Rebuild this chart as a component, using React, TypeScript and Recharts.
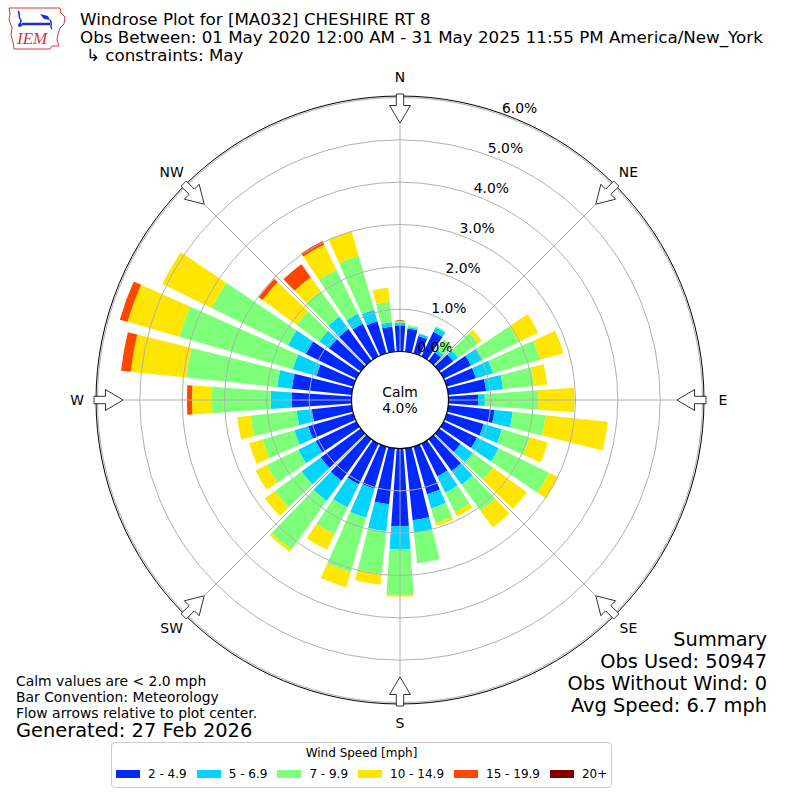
import { RadialBarChart, RadialBar, PolarAngleAxis, PolarRadiusAxis } from "recharts";

// direction of origin, degrees clockwise from north
const directions = [
  0, 10, 20, 30, 40, 50, 60, 70, 80, 90, 100, 110, 120, 130, 140, 150, 160, 170,
  180, 190, 200, 210, 220, 230, 240, 250, 260, 270, 280, 290, 300, 310, 320, 330, 340, 350,
];

// percent of observations per direction and speed bin
const speed2to5 = [
  0.62, 0.55, 0.43, 0.65, 0.25, 0.41, 0.72, 0.72, 0.9, 0.7, 1.1, 0.91, 0.88, 0.62, 0.93, 0.86, 1.17, 1.71,
  1.84, 1.33, 1.03, 1.07, 1.21, 1.17, 1.07, 1.11, 0.95, 1.41, 1.42, 0.91, 1.33, 0.93, 0.93, 0.86, 0.79, 0.6,
];
const speed5to7 = [
  0.06, 0.04, 0.06, 0.12, 0.08, 0.14, 0.3, 0.42, 0.4, 0.16, 0.43, 0.45, 0.57, 0.36, 0.4, 0.43, 0.35, 0.29,
  0.55, 0.64, 0.72, 0.61, 0.59, 0.56, 0.46, 0.34, 0.36, 0.5, 0.35, 0.58, 0.47, 0.28, 0.36, 0.26, 0.28, 0.1,
];
const speed7to10 = [
  0.05, 0.04, 0, 0.03, 0.29, 0.59, 0.95, 1.16, 0.74, 1.26, 0.78, 0.68, 1.32, 0.59, 0.76, 0.51, 0.36, 0.73,
  1.07, 1.01, 1.33, 0.71, 1.42, 0.78, 0.82, 0.79, 1.09, 1.39, 2.16, 2.79, 2.01, 0.67, 0.75, 1.16, 1.33, 0.49,
];
const speed10to15 = [
  0, 0, 0, 0, 0, 0.1, 0.52, 0.57, 0.31, 0.86, 1.48, 0.45, 0.24, 0.99, 0.49, 0.12, 0.07, 0,
  0.04, 0.26, 0.38, 0.4, 0.07, 0.29, 0.3, 0.32, 0.32, 0.47, 1.32, 1.27, 1.29, 0.99, 0.4, 0.66, 0.6, 0.33,
];
const speed15to20 = [
  0, 0, 0, 0, 0, 0, 0, 0, 0, 0, 0, 0, 0, 0, 0, 0, 0, 0,
  0, 0, 0, 0, 0, 0, 0, 0, 0, 0.12, 0.23, 0.19, 0, 0.11, 0.38, 0.09, 0, 0,
];
const speed20plus = [
  0, 0, 0, 0, 0, 0, 0, 0, 0, 0, 0, 0, 0, 0, 0, 0, 0, 0,
  0, 0, 0, 0, 0, 0, 0, 0, 0, 0, 0, 0, 0, 0, 0, 0, 0, 0,
];

const binLabels = ["2 - 4.9", "5 - 6.9", "7 - 9.9", "10 - 14.9", "15 - 19.9", "20+"];
const binColors = ["#0028ff", "#00d4ff", "#7dff7a", "#ffe600", "#ff4700", "#800000"];
const binValues = [speed2to5, speed5to7, speed7to10, speed10to15, speed15to20, speed20plus];

const radialTicks = [0, 1, 2, 3, 4, 5, 6];
const compassLabels = ["N", "NE", "E", "SE", "S", "SW", "W", "NW"];

const data = directions.map((d, i) => {
  const row: Record<string, number | string> = { dir: String(d) };
  binValues.forEach((vals, j) => {
    row["bin" + j] = vals[i];
  });
  return row;
});

const CX = 400;
const CY = 400;
const R0 = 48.5;
const R1 = 302.5;
const FONT = "DejaVu Sans, Verdana, sans-serif";

// point at radius r along compass bearing deg, w = sideways offset
const pt = (deg: number, r: number, w = 0) => {
  const a = (deg * Math.PI) / 180;
  return [CX + r * Math.sin(a) + w * Math.cos(a), CY - r * Math.cos(a) + w * Math.sin(a)];
};

const RadiusTick = (props: any) => {
  const { x, y, payload } = props;
  return (
    <text x={x + 18.6} y={y - 6.8} textAnchor="middle" dominantBaseline="central" fontSize={13.9} fontFamily={FONT} fill="#000">
      {`${Number(payload.value).toFixed(1)}%`}
    </text>
  );
};

const arrowShape = (deg: number) => {
  const pts = [
    pt(deg, 306, -3.7),
    pt(deg, 294.5, -3.7),
    pt(deg, 294.5, -10.5),
    pt(deg, 277, 0),
    pt(deg, 294.5, 10.5),
    pt(deg, 294.5, 3.7),
    pt(deg, 306, 3.7),
  ];
  return pts.map((p) => p.join(",")).join(" ");
};

const Overlay = () => {
  const rings = radialTicks.slice(1).map((v) => R0 + (v * (R1 - R0)) / 6);
  return (
    <svg width={800} height={800} style={{ position: "absolute", left: 0, top: 0, pointerEvents: "none" }}>
      {rings.map((r, i) => (
        <circle key={i} cx={CX} cy={CY} r={r} fill="none" stroke="#b0b0b0" strokeWidth={1} />
      ))}
      {compassLabels.map((_, i) => {
        const a = pt(i * 45, R0);
        const b = pt(i * 45, R1);
        return <line key={i} x1={a[0]} y1={a[1]} x2={b[0]} y2={b[1]} stroke="#b0b0b0" strokeWidth={1} />;
      })}
      <circle cx={CX} cy={CY} r={304} fill="none" stroke="#000" strokeWidth={1} />
      <circle cx={CX} cy={CY} r={R0} fill="#fff" stroke="#000" strokeWidth={1.2} />
      <text x={CX} y={CY - 8} textAnchor="middle" dominantBaseline="central" fontSize={13.9} fontFamily={FONT}>Calm</text>
      <text x={CX} y={CY + 8} textAnchor="middle" dominantBaseline="central" fontSize={13.9} fontFamily={FONT}>4.0%</text>
      {compassLabels.map((lab, i) => {
        const p = pt(i * 45, 323);
        return (
          <g key={lab}>
            <polygon points={arrowShape(i * 45)} fill="#fff" stroke="#333" strokeWidth={1} />
            <text x={p[0]} y={p[1]} textAnchor="middle" dominantBaseline="central" fontSize={13.9} fontFamily={FONT}>
              {lab}
            </text>
          </g>
        );
      })}
    </svg>
  );
};

const Header = () => (
  <svg width={800} height={800} style={{ position: "absolute", left: 0, top: 0, pointerEvents: "none" }}>
    <g>
      <path
        d="M9,8 L60,8 L61,13 L65,17 L64,24 L60,28 L58,34 L57,40 L59,46 L52,46 L50,49 L14,49 L13,42 L11,35 L12,28 L9,20 L10,14 Z"
        fill="#fff"
        stroke="#d23a3a"
        strokeWidth={1}
      />
      <path d="M18,11 C21,14 17,17 21,20 L20,25" fill="none" stroke="#1a2fd0" strokeWidth={1.5} />
      <line x1={22} y1={24} x2={50} y2={24} stroke="#1a2fd0" strokeWidth={2.5} />
      <path d="M40,14 L48,16 L50,20 L44,19 Z" fill="#1a2fd0" />
      <path d="M50,20 C53,23 49,26 52,29" fill="none" stroke="#1a2fd0" strokeWidth={1.5} />
      <circle cx={20} cy={25} r={2} fill="#1a2fd0" />
      <text x={17} y={44} fontSize={17} fontStyle="italic" fontFamily="Liberation Serif, serif" fill="#d23a3a">IEM</text>
    </g>
    <text x={80} y={25} fontSize={16.7} fontFamily={FONT}>Windrose Plot for [MA032] CHESHIRE RT 8</text>
    <text x={80} y={42.5} fontSize={16.7} fontFamily={FONT}>Obs Between: 01 May 2020 12:00 AM - 31 May 2025 11:55 PM America/New_York</text>
    <text x={86} y={61} fontSize={16.7} fontFamily={FONT}>↳ constraints: May</text>

    <text x={16} y={686} fontSize={13.9} fontFamily={FONT}>Calm values are &lt; 2.0 mph</text>
    <text x={16} y={702} fontSize={13.9} fontFamily={FONT}>Bar Convention: Meteorology</text>
    <text x={16} y={718} fontSize={13.9} fontFamily={FONT}>Flow arrows relative to plot center.</text>
    <text x={16} y={737} fontSize={19.4} fontFamily={FONT}>Generated: 27 Feb 2026</text>

    <text x={767} y={646} textAnchor="end" fontSize={19.4} fontFamily={FONT}>Summary</text>
    <text x={767} y={668} textAnchor="end" fontSize={19.4} fontFamily={FONT}>Obs Used: 50947</text>
    <text x={767} y={690} textAnchor="end" fontSize={19.4} fontFamily={FONT}>Obs Without Wind: 0</text>
    <text x={767} y={712} textAnchor="end" fontSize={19.4} fontFamily={FONT}>Avg Speed: 6.7 mph</text>
  </svg>
);

const SpeedLegend = () => (
  <div
    style={{
      position: "absolute",
      left: 111,
      top: 742,
      width: 499,
      height: 44,
      border: "1px solid #cccccc",
      borderRadius: 4,
      background: "#fff",
      fontFamily: FONT,
      fontSize: 12,
      boxSizing: "content-box",
      whiteSpace: "nowrap",
    }}
  >
    <div style={{ textAlign: "center", marginTop: 3, lineHeight: "14px" }}>Wind Speed [mph]</div>
    <div style={{ display: "flex", alignItems: "center", marginTop: 7, marginLeft: 4, lineHeight: "14px" }}>
      {binLabels.map((lab, i) => (
        <div key={lab} style={{ display: "flex", alignItems: "center", marginRight: 10, flexShrink: 0 }}>
          <span style={{ display: "inline-block", width: 24, height: 8, background: binColors[i], marginRight: 8 }} />
          <span>{lab}</span>
        </div>
      ))}
    </div>
  </div>
);

const App = () => {
  return (
    <div style={{ position: "absolute", left: 0, top: 0, width: 800, height: 800, background: "#fff" }}>
      <div style={{ position: "absolute", left: 0, top: 0 }}>
        <RadialBarChart
          width={800}
          height={800}
          cx={CX}
          cy={CY}
          innerRadius={R0}
          outerRadius={R1}
          startAngle={85}
          endAngle={-275}
          layout="centric"
          data={data}
          barSize={8}
          margin={{ top: 0, right: 0, bottom: 0, left: 0 }}
        >
          <PolarAngleAxis type="category" dataKey="dir" tick={false} axisLine={false} tickLine={false} />
          {binLabels.map((lab, j) => (
            <RadialBar
              key={lab}
              dataKey={"bin" + j}
              name={lab}
              stackId="speed"
              fill={binColors[j]}
              isAnimationActive={false}
            />
          ))}
          <PolarRadiusAxis
            type="number"
            domain={[0, 6]}
            ticks={radialTicks}
            angle={70.5}
            axisLine={false}
            tickLine={false}
            tick={RadiusTick}
          />
        </RadialBarChart>
      </div>
      <Overlay />
      <Header />
      <SpeedLegend />
    </div>
  );
};

export default App;
